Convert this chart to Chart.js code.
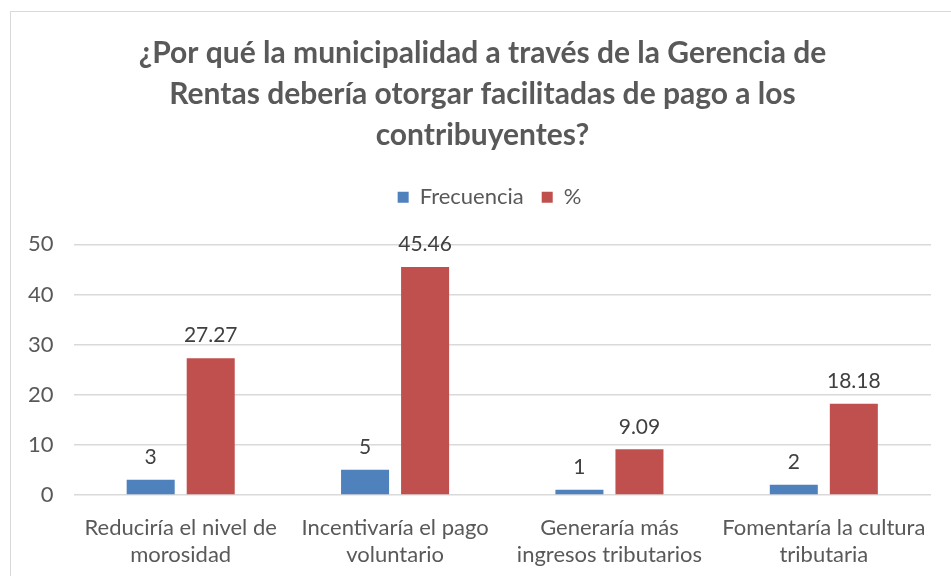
<!DOCTYPE html>
<html>
<head>
<meta charset="utf-8">
<script src="https://cdn.jsdelivr.net/npm/chart.js@4.4.1/dist/chart.umd.min.js"></script>
<style>
  body { margin: 0; background: #fff; }
  #frame {
    position: absolute; left: 10px; top: 11px;
    width: 1000px; height: 700px;
    border: 1px solid #d9d9d9;
  }
  #wrap { position: absolute; left: 0; top: 0; width: 951px; height: 576px; }
</style>
</head>
<body>
<div id="frame"></div>
<div id="wrap"><canvas id="myChart"></canvas></div>
<script>
'use strict';

// data
const categories = [
  ['Reduciría el nivel de', 'morosidad'],
  ['Incentivaría el pago', 'voluntario'],
  ['Generaría más', 'ingresos tributarios'],
  ['Fomentaría la cultura', 'tributaria']
];
const frecuencia = [3, 5, 1, 2];
const porcentaje = [27.27, 45.46, 9.09, 18.18];
const yTicks = [0, 10, 20, 30, 40, 50];

const titleLines = [
  '¿Por qué la municipalidad a través de la Gerencia de',
  'Rentas debería otorgar facilitadas de pago a los',
  'contribuyentes?'
];

const FONT = 'Lato, "Open Sans", sans-serif';

// draws the value above every bar
const valueLabels = {
  id: 'valueLabels',
  afterDatasetsDraw(chart) {
    const ctx = chart.ctx;
    ctx.save();
    ctx.font = '21px ' + FONT;
    ctx.fillStyle = '#404040';
    ctx.textAlign = 'center';
    ctx.textBaseline = 'bottom';
    chart.data.datasets.forEach((ds, i) => {
      const meta = chart.getDatasetMeta(i);
      meta.data.forEach((bar, j) => {
        ctx.fillText(String(ds.data[j]), bar.x, bar.y - 12);
      });
    });
    ctx.restore();
  }
};

// extra room under the legend, and title/legend nudged a bit to the right
const legendSpace = {
  id: 'legendSpace',
  beforeInit(chart) {
    const origFit = chart.legend.fit;
    chart.legend.fit = function () {
      origFit.bind(chart.legend)();
      this.height += 26;
    };
  },
  afterLayout(chart) {
    chart.legend.left += 20;
    chart.legend.right += 20;
    chart.titleBlock.left += 13;
    chart.titleBlock.right += 13;
  }
};

const data = {
  labels: categories,
  datasets: [{
    label: 'Frecuencia',
    data: frecuencia,
    backgroundColor: '#4F81BD',
    categoryPercentage: 0.56,
    barPercentage: 0.8
  },
  {
    label: '%',
    data: porcentaje,
    backgroundColor: '#C0504D',
    categoryPercentage: 0.56,
    barPercentage: 0.8
  }]
};

const config = {
  type: 'bar',
  data: data,
  options: {
    responsive: false,
    animation: false,
    layout: {
      padding: { left: 8, right: 20, top: 33, bottom: -11 }
    },
    scales: {
      x: {
        grid: { display: false, drawTicks: false },
        border: { display: false },
        ticks: {
          color: '#595959',
          font: { family: FONT, size: 22, lineHeight: 1.23 },
          maxRotation: 0,
          padding: 19
        }
      },
      y: {
        min: 0,
        max: 50,
        afterBuildTicks: (axis) => {
          axis.ticks = yTicks.map(v => ({ value: v }));
        },
        grid: { color: '#d9d9d9', lineWidth: 1.5, drawTicks: false },
        border: { display: false },
        ticks: {
          color: '#595959',
          font: { family: FONT, size: 22 },
          padding: 20
        }
      }
    },
    plugins: {
      title: {
        display: true,
        text: titleLines,
        color: '#595959',
        font: { family: FONT, size: 30, weight: 'bold', lineHeight: 1.37 },
        padding: { top: 0, bottom: 12 }
      },
      legend: {
        labels: {
          color: '#595959',
          font: { family: FONT, size: 22 },
          boxWidth: 11,
          boxHeight: 11,
          padding: 18
        }
      },
      tooltip: { enabled: false }
    }
  },
  plugins: [valueLabels, legendSpace]
};

const canvas = document.getElementById('myChart');
canvas.width = 951;
canvas.height = 576;
const myChart = new Chart(canvas, config);
</script>
</body>
</html>
